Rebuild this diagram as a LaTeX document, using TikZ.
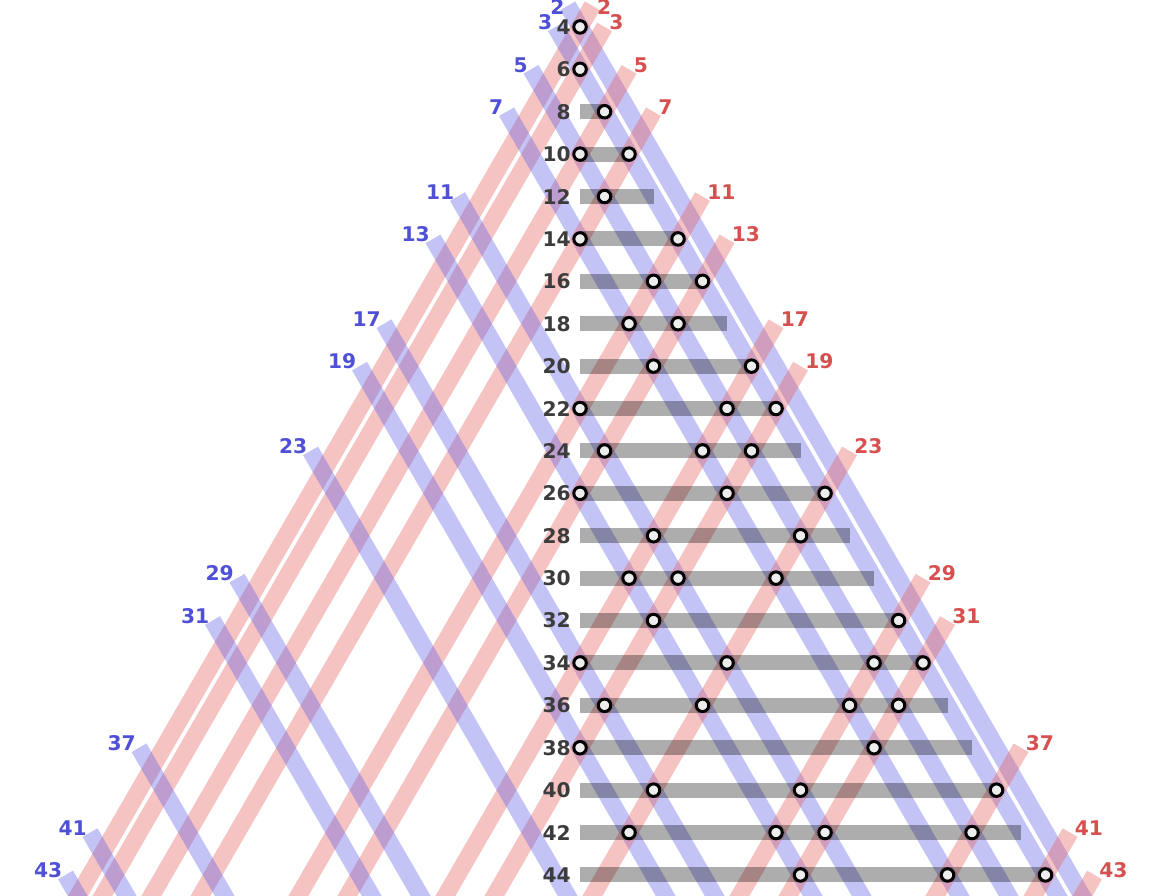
\documentclass[tikz,border=0pt]{standalone}
\usepackage{fontspec}
\setmainfont{DejaVu Sans}
\usepackage{tikz}
\usetikzlibrary{positioning}

\definecolor{stripblue}{RGB}{90,90,230}
\definecolor{stripred}{RGB}{230,90,90}
\definecolor{textblue}{RGB}{80,80,215}
\definecolor{textred}{RGB}{215,80,80}
\definecolor{rowgray}{RGB}{60,60,60}

\tikzset{
  sumbar/.style={line width=8.5pt, black, opacity=0.32},
  bluestrip/.style={line width=9.8pt, stripblue, opacity=0.36},
  redstrip/.style={line width=9.8pt, stripred, opacity=0.36},
  pairdot/.style={circle, draw=black, fill=white!93!black, line width=1.7pt,
    minimum size=0.25cm, inner sep=0pt},
  evenlabel/.style={anchor=east, inner sep=0pt, text=rowgray,
    font=\bfseries\fontsize{11.5}{13}\selectfont},
  redlabel/.style={anchor=west, inner sep=0pt, text=textred, xshift=0.09cm, yshift=0.09cm,
    font=\bfseries\fontsize{11.5}{13}\selectfont},
  bluelabel/.style={anchor=east, inner sep=0pt, text=textblue, xshift=-0.06cm, yshift=0.09cm,
    font=\bfseries\fontsize{11.5}{13}\selectfont}
}

\begin{document}
\begin{tikzpicture}[x=0.245cm, y=-0.424cm]
  % Frame
  \useasboundingbox (-47.35,2.73) rectangle (46.69,44.99);

  % Prime strips, cut at the frame
  \begin{scope}
    \clip (-47.35,2.73) rectangle (46.69,44.99);
    \foreach \p in {2,3,5,7,11,13,17,19,23,29,31,37,41,43}{
      \draw[bluestrip] (1-\p,\p+1) -- ++(46,46);
      \draw[redstrip] (\p-1,\p+1) -- ++(-46,46);
    }
  \end{scope}

  % Bars of the even numbers
  \foreach \n in {8,10,...,44}
    \draw[sumbar] (0,\n) -- (\n-6,\n);

  % Even numbers on the left
  \foreach \n in {4,6,...,44}
    \node[evenlabel] (e\n) at (-0.73,\n) {\n};

  % Prime labels at the top of each strip
  \node[redlabel, yshift=-0.12cm] (r2) at (1,3) {2};
  \node[bluelabel, yshift=-0.12cm] (b2) at (-1,3) {2};
  \foreach \p in {3,5,7,11,13,17,19,23,29,31,37,41,43}{
    \node[redlabel] (r\p) at (\p-1,\p+1) {\p};
    \node[bluelabel] (b\p) at (1-\p,\p+1) {\p};
  }

  % Goldbach pairs p+q
  \foreach \p in {2,3,5,7,11,13,17,19,23,29,31,37,41,43}
    \foreach \q in {2,3,5,7,11,13,17,19,23,29,31,37,41,43}{
      \ifnum\p>\q\else\ifnum\numexpr\p+\q\relax>44\else\ifodd\numexpr\p+\q\relax\else
        \node[pairdot] (c\p-\q) at (\q-\p,\p+\q) {};
      \fi\fi\fi
    }
\end{tikzpicture}
\end{document}
